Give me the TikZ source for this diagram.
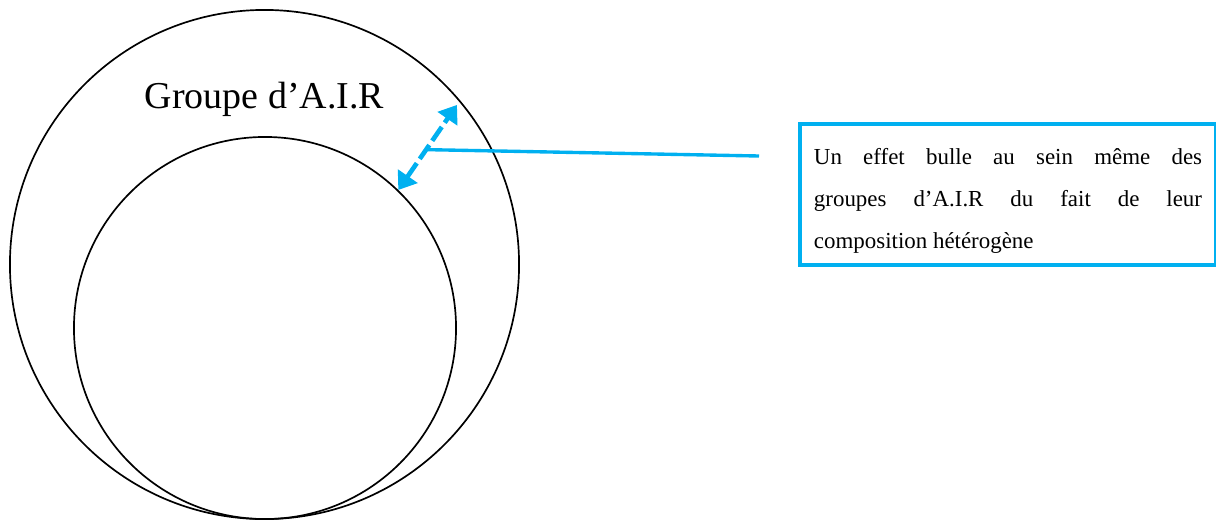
\documentclass[tikz,border=0pt]{standalone}
\usepackage{fontspec}
\setmainfont{Liberation Serif}
\usetikzlibrary{arrows.meta,calc}
\definecolor{airblue}{RGB}{0,176,240}
\begin{document}
\begin{tikzpicture}[
        x=0.025cm, y=-0.025cm,
        bubble/.style={draw, circle, line width=1.2pt, inner sep=0pt},
        infobox/.style={draw=airblue, rectangle, line width=2.8pt, text width=9.7cm, inner xsep=0.35cm,
            minimum height=3.525cm, align=justify, font=\fontsize{16.3}{30}\selectfont},
        gap/.style={airblue, line width=3.3pt, dash pattern=on 0.42cm off 0.13cm,
            {Triangle[length=0.42cm,width=0.58cm]}-{Triangle[length=0.42cm,width=0.58cm]}},
        link/.style={airblue, line width=2.4pt}
    ]
    \useasboundingbox (0,0) rectangle (1216,521);

    \node[bubble, minimum size=12.725cm] (outer) at (264.5,264.5) {};
    \node[bubble, minimum size=9.55cm] (inner) at (265,328) {};
    \node[anchor=base, font=\fontsize{27}{32}\selectfont] (title) at (264.5,108) {Groupe d’A.I.R};

    \node[infobox, anchor=west] (note) at (798,194.5) {\rule{0pt}{21pt}Un effet bulle au sein même des\linebreak
        groupes d’A.I.R du fait de leur\linebreak composition hétérogène};

    \draw[gap, shorten >=0.14cm] (inner.46) -- (outer.40);
    \coordinate (bulle) at ($(inner.46)!0.45!(outer.40)$);
    \coordinate (noteend) at (759,156);
    \draw[link] (bulle) -- (noteend);

    \end{tikzpicture}
\end{document}
